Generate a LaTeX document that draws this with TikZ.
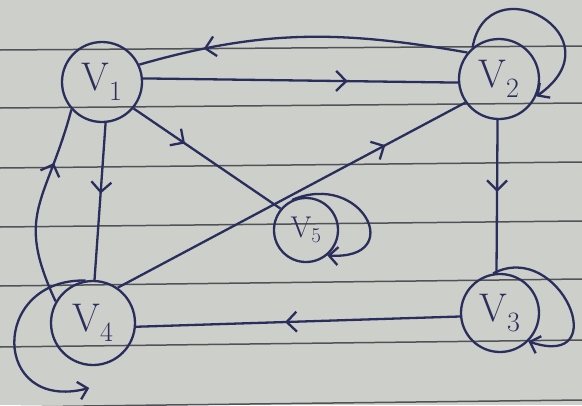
\documentclass[tikz,border=0pt]{standalone}
\usetikzlibrary{arrows.meta,decorations.markings,calc}
\definecolor{ink}{HTML}{2A2E5C}
\definecolor{paper}{HTML}{CDCFCA}
\definecolor{rulecol}{HTML}{505257}
\newcommand{\vlab}[1]{V\textsubscript{#1}}
\begin{document}
\begin{tikzpicture}[x=1pt,y=1pt,
  vertex/.style={circle,draw=ink,line width=2.3pt,minimum size=80pt,inner sep=0pt,text=ink,font=\fontsize{40}{44}\selectfont},
  edge/.style={draw=ink,line width=2.3pt},
  midarrow/.style={postaction={decorate},decoration={markings,mark=at position #1 with {\arrow[ink,line width=2.3pt]{Straight Barb[length=10pt,width=20pt]}}}},
  tipend/.style={-{Straight Barb[length=9pt,width=18pt]}}
]
\fill[paper] (0,0) rectangle (582,-405);
\useasboundingbox (0,0) rectangle (582,-405);
\foreach \a/\b in {50/46,108/103,168/162,227/221,286/279,347/340,407/400}
  \draw[rulecol,line width=1.5pt] (0,-\a) -- (582,-\b);

\node[vertex] (v1) at (102,-82) {\vlab{1}};
\node[vertex] (v2) at (499,-79) {\vlab{2}};
\node[vertex,minimum size=64pt,font=\fontsize{30}{34}\selectfont] (v5) at (306,-230) {\vlab{5}};
\node[vertex,minimum size=78pt] (v3) at (500,-313) {\vlab{3}};
\node[vertex,minimum size=84pt] (v4) at (93,-323) {\vlab{4}};

% edges
\draw[edge,midarrow=0.8] (v2.140) to[out=170,in=16] (v1.25);
\draw[edge,midarrow=0.65] (v1.5) -- (v2.185);
\draw[edge,midarrow=0.35] (v1.-40) -- (v5.140);
\draw[edge,midarrow=0.45] (v1.-85) -- (v4.88);
\draw[edge,midarrow=0.72] (v4.150) to[out=115,in=255,looseness=1.3] (v1.222);
\draw[edge,midarrow=0.77] (v4.55) -- (v2.215);
\draw[edge,midarrow=0.47] (v2.-92) -- (v3.95);
\draw[edge,midarrow=0.54] (v3.185) -- (v4.-5);

% self loops
\draw[edge,tipend] (v2.130) .. controls +(15,85) and +(85,60) .. (v2.-25);
\draw[edge,tipend] (v5.115) .. controls +(70,30) and +(80,-5) .. (v5.-50);
\draw[edge,tipend] (v3.100) .. controls +(67,35) and +(87,-29) .. (v3.-45);
\coordinate (l4end) at ($(v4.-95)+(0,-22)$);
\draw[edge,tipend] (v4.100) .. controls +(-96,2) and +(-98,-25) .. (l4end);
\end{tikzpicture}
\end{document}
